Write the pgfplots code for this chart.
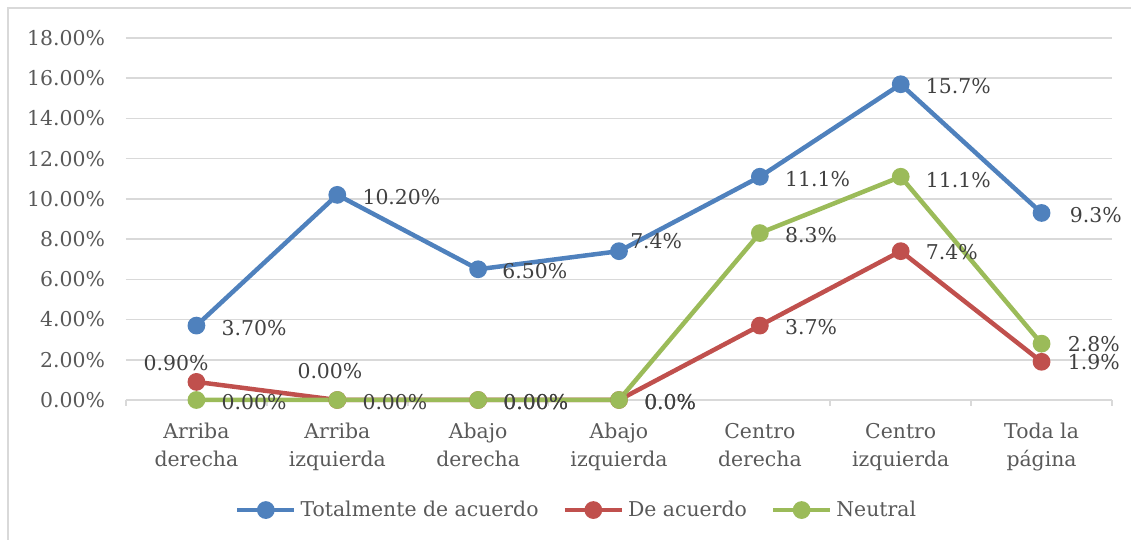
\documentclass[border=0pt]{standalone}
\usepackage{pgfplots}
\pgfplotsset{compat=1.18}
\usepackage{pgfplotstable}
\usepackage{fontspec}
\setmainfont{DejaVu Serif}

\definecolor{cblue}{HTML}{4F81BD}
\definecolor{cred}{HTML}{C0504D}
\definecolor{cgreen}{HTML}{9BBB59}
\definecolor{cgrid}{HTML}{D9D9D9}
\definecolor{ctick}{HTML}{595959}
\definecolor{clabel}{HTML}{404040}

% x y label dx dy  (dx, dy in pt, label anchored west)
\pgfplotstableread{
x y lbl dx dy
0 3.7 3.70\% 11.5 -1
1 10.2 10.20\% 11.5 -1
2 6.5 6.50\% 11 -1
3 7.4 7.4\% 4.5 5
4 11.1 11.1\% 11.5 -1
5 15.7 15.7\% 11.5 -1
6 9.3 9.3\% 13 -1
}\total
\pgfplotstableread{
x y lbl dx dy
0 0.9 0.90\% -27.5 9.5
1 0 0.00\% -21 14.5
2 0 0.00\% 11.5 -1
3 0 0.0\% 11.5 -1
4 3.7 3.7\% 11.5 -0.5
5 7.4 7.4\% 11.5 -0.5
6 1.9 1.9\% 12 0
}\deacuerdo
\pgfplotstableread{
x y lbl dx dy
0 0 0.00\% 11.5 -1
1 0 0.00\% 11.5 -1
2 0 0.00\% 11.5 -1
3 0 0.0\% 11.5 -1
4 8.3 8.3\% 11.5 -1
5 11.1 11.1\% 11.5 -1.5
6 2.8 2.8\% 12 0
}\neutral

\begin{document}
\begin{tikzpicture}
\useasboundingbox (-63pt,-70pt) rectangle (502.5pt,200pt);
\draw[cgrid, line width=0.8pt] (-59pt,-90pt) rectangle (520pt,196pt);
\begin{axis}[
    at={(0,0)}, anchor=south west,
    scale only axis,
    width=493pt, height=181pt,
    xmin=-0.5, xmax=6.5,
    ymin=0, ymax=18,
    font=\fontsize{10.2pt}{12.5pt}\selectfont,
    axis lines*=left,
    y axis line style={draw=none},
    x axis line style={cgrid, line width=0.8pt},
    xtick={0,...,6},
    xticklabels={Arriba\\derecha, Arriba\\izquierda, Abajo\\derecha, Abajo\\izquierda, Centro\\derecha, Centro\\izquierda, Toda la\\página},
    xticklabel style={align=center, text=ctick, yshift=-8pt,
        font=\fontsize{10.2pt}{14pt}\selectfont},
    minor xtick={-0.5,0.5,...,6.5},
    major tick length=0pt,
    minor tick length=3pt,
    tick align=outside,
    minor tick style={cgrid, line width=0.8pt},
    ytick={0,2,...,18},
    yticklabels={0.00\%,2.00\%,4.00\%,6.00\%,8.00\%,10.00\%,12.00\%,14.00\%,16.00\%,18.00\%},
    yticklabel style={text=ctick, xshift=-7pt},
    ymajorgrids,
    grid style={cgrid, line width=0.8pt},
    clip=false,
    point meta=explicit symbolic,
    nodes near coords,
    visualization depends on={\thisrow{dx} \as \dx},
    visualization depends on={\thisrow{dy} \as \dy},
    nodes near coords style={anchor=west, inner sep=0pt, text=clabel,
        xshift=\dx pt, yshift=\dy pt},
    every axis plot/.append style={line width=2.25pt, mark=*, mark size=3.3pt,
        mark options={solid}},
    legend columns=3,
    legend style={draw=none, fill=none, at={(0.458,-0.304)}, anchor=center,
        font=\fontsize{10.2pt}{12pt}\selectfont, text=ctick,
        /tikz/every even column/.append style={column sep=10pt},
        inner sep=0pt},
    legend image code/.code={
        \draw[#1, mark repeat=2, mark phase=2] plot coordinates {(0pt,0pt) (14.25pt,0pt) (28.5pt,0pt)};
    },
]
\addplot[cblue] table[x=x, y=y, meta=lbl] {\total};
\addplot[cred] table[x=x, y=y, meta=lbl] {\deacuerdo};
\addplot[cgreen] table[x=x, y=y, meta=lbl] {\neutral};
\legend{Totalmente de acuerdo, De acuerdo, Neutral}
\end{axis}
\end{tikzpicture}
\end{document}
